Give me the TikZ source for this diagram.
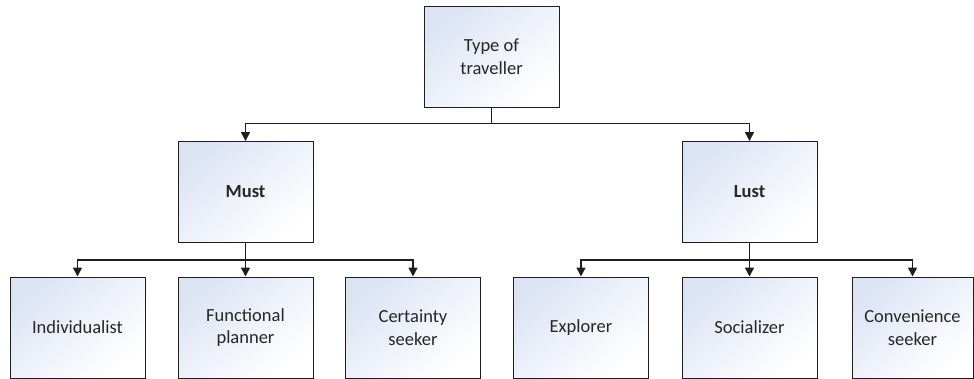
\documentclass[tikz,border=0pt]{standalone}
\usepackage{fontspec}
\setmainfont{Carlito}
\usetikzlibrary{arrows.meta, positioning, shadings}
\definecolor{clrBox}{RGB}{220,228,244}
\definecolor{clrLine}{RGB}{30,30,30}

\begin{document}
\begin{tikzpicture}[
  node distance=33.5pt,
  box/.style={
    rectangle, draw=clrLine, line width=1pt,
    top color=clrBox, bottom color=white, shading angle=40,
    minimum width=135pt, minimum height=101pt, inner sep=0pt,
    font=\fontsize{18.5}{22.5}\selectfont, align=center, text=black!85
  },
  bbox/.style={box, font=\fontsize{18.5}{22.5}\selectfont\bfseries},
  arrow/.style={-{Triangle[length=9pt,width=9pt]}, line width=1.6pt, color=clrLine}
]
\useasboundingbox (0,0) rectangle (974pt,-378pt);

\node[box] (type) at (491.5pt,-56.5pt) {Type of\\traveller};

\node[bbox, below=of type, xshift=-246pt] (must) {Must};
\node[bbox, below=of type, xshift=258pt]  (lust) {Lust};

\node[box, below=of must, xshift=-168pt]   (indiv) {Individualist};
\node[box, below=of must]                  (func)  {Functional\\planner};
\node[box, below=of must, xshift=167.5pt]  (cert)  {Certainty\\seeker};

\node[box, below=of lust, xshift=-168.5pt] (expl) {Explorer};
\node[box, below=of lust]                  (soc)  {Socializer};
\node[box, below=of lust, xshift=163pt, minimum width=121pt] (conv) {Convenience\\seeker};

% top level
\draw[arrow] (type.south) -- ++(0,-16pt) -| (must.north);
\draw[arrow] (type.south) -- ++(0,-16pt) -| (lust.north);

% second level
\foreach \k in {indiv,func,cert}
  \draw[arrow] (must.south) -- ++(0,-17pt) -| (\k.north);
\foreach \k in {expl,soc,conv}
  \draw[arrow] (lust.south) -- ++(0,-17pt) -| (\k.north);

\end{tikzpicture}
\end{document}
